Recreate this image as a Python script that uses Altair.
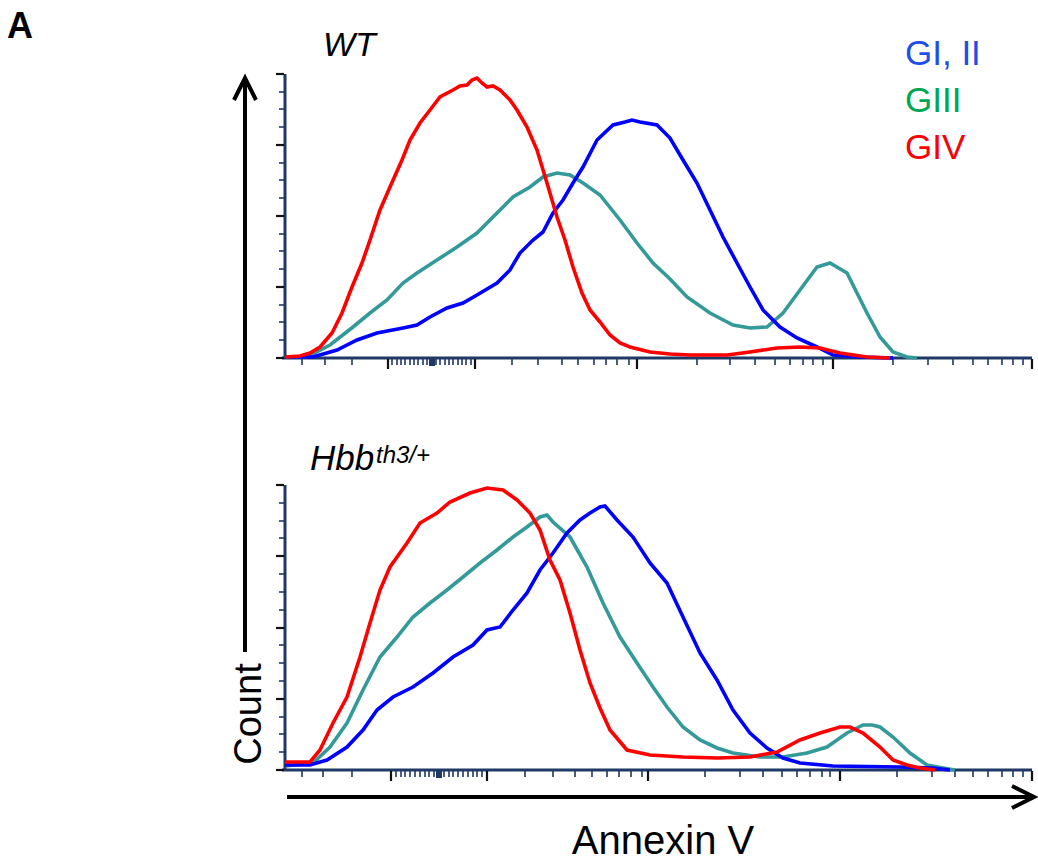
import altair as alt
import pandas as pd

# ---------------- data ----------------
# x: display channel (0..747), y: events (panel scale)
XMAX = 747
TOP_YMAX = 284
BOT_YMAX = 285

# WT panel
wt_blue_x = [0, 28, 52, 72, 92, 118, 132, 145, 162, 178, 192, 212, 225, 235, 248, 258, 268, 278, 288, 298, 312, 328, 340, 347, 355, 372, 385, 398, 412, 425, 438, 452, 465, 478, 495, 512, 532, 548, 575, 608]
wt_blue_y = [1, 1, 8, 18, 25, 30, 33, 41, 50, 55, 63, 75, 88, 105, 118, 126, 145, 158, 175, 191, 218, 233, 236, 238, 236, 233, 220, 198, 175, 148, 121, 95, 71, 48, 31, 20, 11, 3, 1, 0]
wt_teal_x = [0, 22, 45, 68, 85, 102, 118, 132, 152, 172, 192, 212, 228, 245, 258, 272, 285, 298, 315, 335, 352, 368, 385, 402, 425, 448, 465, 482, 498, 515, 532, 545, 562, 572, 582, 595, 608, 622, 632]
wt_teal_y = [1, 1, 13, 31, 45, 58, 75, 85, 98, 111, 125, 145, 161, 171, 181, 185, 183, 175, 163, 138, 115, 95, 79, 61, 45, 33, 30, 31, 45, 68, 91, 95, 85, 65, 45, 21, 6, 1, 0]
wt_red_x = [0, 15, 25, 35, 47, 57, 67, 77, 85, 95, 105, 117, 125, 135, 145, 155, 168, 175, 182, 187, 192, 197, 202, 208, 215, 225, 232, 242, 252, 262, 272, 280, 288, 297, 305, 315, 325, 335, 345, 365, 385, 405, 442, 465, 492, 515, 535, 555, 582, 605]
wt_red_y = [1, 2, 5, 11, 25, 45, 71, 95, 118, 148, 171, 198, 218, 235, 248, 261, 268, 272, 273, 278, 280, 275, 271, 272, 268, 258, 248, 231, 208, 175, 141, 118, 91, 65, 48, 36, 23, 15, 11, 6, 4, 3, 3, 6, 10, 11, 10, 5, 1, 0]

# Hbb th3/+ panel
th_blue_x = [0, 25, 42, 62, 78, 92, 108, 128, 148, 168, 188, 202, 215, 228, 242, 255, 268, 282, 295, 305, 315, 320, 332, 348, 365, 382, 398, 415, 432, 448, 465, 482, 498, 515, 548, 615, 648, 665]
th_blue_y = [5, 5, 10, 23, 40, 60, 73, 83, 97, 113, 125, 140, 143, 160, 177, 200, 217, 237, 250, 257, 263, 264, 250, 233, 207, 187, 153, 117, 90, 60, 37, 22, 12, 7, 4, 3, 2, 0]
th_teal_x = [0, 28, 45, 62, 78, 95, 112, 128, 145, 162, 178, 195, 212, 228, 242, 255, 262, 268, 285, 302, 318, 335, 352, 368, 382, 398, 415, 432, 448, 475, 498, 522, 542, 562, 578, 587, 595, 608, 625, 642, 658, 670]
th_teal_y = [4, 7, 23, 47, 80, 113, 133, 153, 167, 180, 193, 207, 220, 233, 243, 253, 255, 248, 233, 203, 167, 133, 107, 83, 63, 43, 30, 22, 17, 13, 13, 17, 23, 37, 45, 45, 43, 33, 17, 5, 2, 0]
th_red_x = [0, 25, 35, 48, 62, 75, 85, 95, 105, 122, 135, 152, 165, 185, 202, 218, 232, 245, 255, 265, 275, 285, 295, 305, 315, 325, 342, 365, 398, 432, 465, 492, 515, 535, 555, 565, 578, 595, 608, 622, 635, 650]
th_red_y = [8, 8, 20, 47, 73, 113, 147, 180, 203, 227, 247, 257, 268, 277, 282, 280, 270, 257, 240, 210, 190, 157, 120, 87, 62, 40, 20, 15, 13, 12, 13, 18, 30, 37, 43, 43, 37, 23, 10, 5, 2, 0]

# axis ticks (display channel / events)
wt_xmajor = [103, 190, 352, 548, 747]
wt_xzero = [147]
wt_xminor = [17, 40, 67, 107, 112, 116, 120, 125, 129, 133, 138, 142, 151, 155, 160, 164, 168, 173, 177, 181, 186,
             227, 253, 277, 293, 309, 321, 332, 344, 412, 445, 470, 490, 505, 518, 528, 538,
             608, 643, 668, 688, 703, 717, 728, 738]
th_xmajor = [106, 202, 363, 555, 747]
th_xzero = [154]
th_xminor = [17, 38, 67, 111, 116, 120, 125, 130, 135, 140, 144, 149, 159, 164, 168, 173, 178, 183, 188, 192, 197,
             240, 268, 290, 307, 322, 334, 346, 357, 420, 455, 478, 497, 512, 525, 537, 545,
             612, 647, 670, 688, 703, 717, 728, 738]
wt_ymajor = [0, 71, 142, 213, 284]
wt_yminor = [18, 36, 53, 89, 107, 124, 160, 178, 195, 231, 249, 266]
th_ymajor = [0, 71, 142, 214, 285]
th_yminor = [18, 36, 53, 89, 107, 125, 160, 178, 196, 232, 249, 267]

legend_labels = ["GI, II", "GIII", "GIV"]
legend_colors = ["#1f4fe8", "#00a650", "#ff0000"]
line_colors = {"GI, II": "#0000ff", "GIII": "#339999", "GIV": "#ff0000"}

NAVY = "#1f3864"
FONT = "Liberation Sans"

xsc = alt.Scale(domain=[0, XMAX], nice=False, zero=False)


def panel(curves, ymax, yrange, xminor, xmajor, xzero, yminor, ymajor):
    ysc = alt.Scale(domain=[0, ymax], range=yrange, nice=False, zero=False)
    X = lambda f: alt.X(f, type="quantitative", scale=xsc, axis=None)
    Y = lambda f: alt.Y(f, type="quantitative", scale=ysc, axis=None)
    layers = []
    ax = pd.DataFrame({"x0": [-3], "x1": [XMAX], "y0": [0], "y1": [ymax]})
    ay = pd.DataFrame({"x0": [0], "y0": [0], "y1": [ymax]})
    layers.append(alt.Chart(ax).mark_rule(color=NAVY, strokeWidth=3).encode(x=X("x0"), x2="x1:Q", y=Y("y0")))
    layers.append(alt.Chart(ay).mark_rule(color=NAVY, strokeWidth=3).encode(x=X("x0"), y=Y("y0"), y2="y1:Q"))
    for xs, size, thick, col in [(xminor, 6, 1.6, NAVY), (xmajor, 10, 2.2, "#111111"), (xzero, 7, 6, NAVY)]:
        d = pd.DataFrame({"x": xs, "y": [0] * len(xs)})
        layers.append(alt.Chart(d).mark_tick(orient="vertical", size=size, thickness=thick, yOffset=size / 2 + 1,
                                             color=col, opacity=1).encode(x=X("x"), y=Y("y")))
    for ys, size, thick, col in [(yminor, 5, 1.6, NAVY), (ymajor, 8, 2.2, "#111111")]:
        d = pd.DataFrame({"x": [0] * len(ys), "y": ys})
        layers.append(alt.Chart(d).mark_tick(orient="horizontal", size=size, thickness=thick, xOffset=-size / 2 - 1,
                                             color=col, opacity=1).encode(x=X("x"), y=Y("y")))
    for name, xs, ys in curves:
        d = pd.DataFrame({"x": xs, "y": ys})
        layers.append(alt.Chart(d).mark_line(color=line_colors[name], strokeWidth=3.6, interpolate="linear")
                      .encode(x=X("x"), y=Y("y")))
    return alt.layer(*layers)


top = panel([("GIII", wt_teal_x, wt_teal_y), ("GI, II", wt_blue_x, wt_blue_y), ("GIV", wt_red_x, wt_red_y)],
            TOP_YMAX, [284, 0], wt_xminor, wt_xmajor, wt_xzero, wt_yminor, wt_ymajor)
bottom = panel([("GIII", th_teal_x, th_teal_y), ("GI, II", th_blue_x, th_blue_y), ("GIV", th_red_x, th_red_y)],
               BOT_YMAX, [696, 411], th_xminor, th_xmajor, th_xzero, th_yminor, th_ymajor)


def label(text, x, y, size=35, color="black", style="normal", weight="normal", align="left", angle=0):
    d = pd.DataFrame({"t": [text]})
    kw = dict(font=FONT, fontSize=size, color=color, fontStyle=style, fontWeight=weight, align=align,
              baseline="alphabetic")
    if angle:
        kw["angle"] = angle
    return alt.Chart(d).mark_text(**kw).encode(x=alt.value(x), y=alt.value(y), text="t:N")


one = pd.DataFrame({"t": [""]})
annots = [
    label("A", -278, -36, size=36, weight="bold"),
    label("WT", 38, -18, size=34, style="italic"),
    label("Hbb", 25, 396, size=35, style="italic"),
    label("th3/+", 91, 389, size=24, style="italic"),
    label("Count", -24, 640, size=38, angle=270, align="center"),
    label("Annexin V", 378, 780, size=40, align="center"),
]
for i, (lab, col) in enumerate(zip(legend_labels, legend_colors)):
    annots.append(label(lab, 620, -9 + 47 * i, size=35, color=col))

# arrows
annots.append(alt.Chart(one).mark_rule(color="black", strokeWidth=4).encode(
    x=alt.value(-40), y=alt.value(6), y2=alt.value(578)))
annots.append(alt.Chart(one).mark_point(shape="M-1,1L0,-1L1,1", filled=False, size=484, strokeWidth=4,
                                        color="black", opacity=1).encode(x=alt.value(-40), y=alt.value(15)))
annots.append(alt.Chart(one).mark_rule(color="black", strokeWidth=4).encode(
    x=alt.value(2), x2=alt.value(747), y=alt.value(723)))
annots.append(alt.Chart(one).mark_point(shape="M-1,-1L1,0L-1,1", filled=False, size=484, strokeWidth=4,
                                        color="black", opacity=1).encode(x=alt.value(738), y=alt.value(723)))

chart = alt.layer(top, bottom, *annots).resolve_scale(y="independent").properties(
    width=747, height=696,
    autosize=alt.AutoSizeParams(type="none"),
    padding={"left": 285, "top": 74, "right": 6, "bottom": 96},
).configure_view(stroke=None)

chart.save("out.html", embed_options={"renderer": "svg", "actions": False})
